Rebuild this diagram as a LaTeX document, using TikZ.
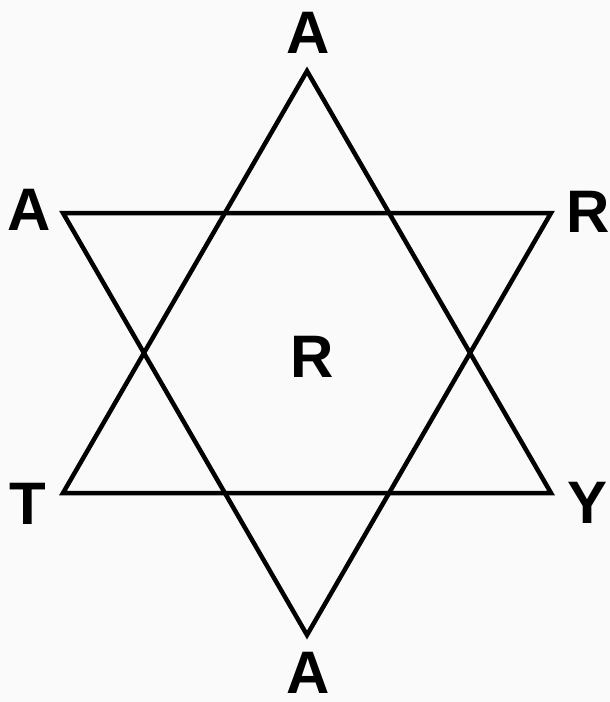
\documentclass[tikz,border=0pt]{standalone}
\usepackage{fontspec}
\setmainfont{Liberation Sans}
\begin{document}
\begin{tikzpicture}[x=1pt,y=-1pt,
  edge/.style={draw=black,line width=4.5pt,line join=miter},
  lbl/.style={inner sep=0pt,anchor=center,font=\fontsize{60}{60}\selectfont\bfseries}]
\fill[white!98!black] (0,0) rectangle (610,702);
\useasboundingbox (0,0) rectangle (610,702);
% vertices
\coordinate (top) at (307,71);
\coordinate (bl) at (63,493);
\coordinate (br) at (551,493);
\coordinate (tl) at (63,213);
\coordinate (tr) at (551,213);
\coordinate (bot) at (307,635);
% triangles
\draw[edge] (top) -- (bl) -- (br) -- cycle;
\draw[edge] (tl) -- (tr) -- (bot) -- cycle;
% labels
\node[lbl] (lA1) at (308,33) {A};
\node[lbl] (lA2) at (29,210) {A};
\node[lbl] (lR1) at (588,212) {R};
\node[lbl] (lR2) at (312,357) {R};
\node[lbl] (lT) at (28,504) {T};
\node[lbl] (lY) at (588,503) {Y};
\node[lbl] (lA3) at (308,673) {A};
\end{tikzpicture}
\end{document}
